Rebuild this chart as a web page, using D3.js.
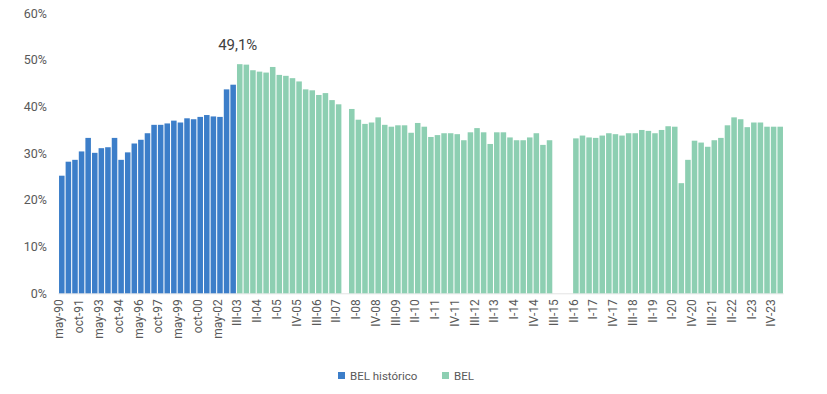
<!DOCTYPE html>
<html>
<head>
<meta charset="utf-8">
<script src="https://cdn.jsdelivr.net/npm/d3@7"></script>
<style>
  html, body { margin: 0; padding: 0; background: #ffffff; }
  svg { display: block; font-family: Roboto, "Open Sans", sans-serif; }
</style>
</head>
<body>
<svg id="chart" width="827" height="394"></svg>
<script>
// Historical semi-annual categories (BEL histórico)
const histCategories = [
  "may-90","oct-90","may-91","oct-91","may-92","oct-92","may-93","oct-93","may-94","oct-94",
  "may-95","oct-95","may-96","oct-96","may-97","oct-97","may-98","oct-98","may-99","oct-99",
  "may-00","oct-00","may-01","oct-01","may-02","oct-02","may-03"
];
const histValues = [
  25.2, 28.2, 28.6, 30.4, 33.3, 30.1, 31.1, 31.3, 33.3, 28.6,
  30.2, 32.1, 32.9, 34.3, 36.1, 36.1, 36.4, 37.0, 36.6, 37.5,
  37.3, 37.8, 38.2, 37.9, 37.8, 43.7, 44.7
];

// Quarterly categories (BEL)
const belCategories = [
  "III-03","IV-03",
  "I-04","II-04","III-04","IV-04",
  "I-05","II-05","III-05","IV-05",
  "I-06","II-06","III-06","IV-06",
  "I-07","II-07","III-07","IV-07",
  "I-08","II-08","III-08","IV-08",
  "I-09","II-09","III-09","IV-09",
  "I-10","II-10","III-10","IV-10",
  "I-11","II-11","III-11","IV-11",
  "I-12","II-12","III-12","IV-12",
  "I-13","II-13","III-13","IV-13",
  "I-14","II-14","III-14","IV-14",
  "I-15","II-15","III-15","IV-15",
  "I-16","II-16","III-16","IV-16",
  "I-17","II-17","III-17","IV-17",
  "I-18","II-18","III-18","IV-18",
  "I-19","II-19","III-19","IV-19",
  "I-20","II-20","III-20","IV-20",
  "I-21","II-21","III-21","IV-21",
  "I-22","II-22","III-22","IV-22",
  "I-23","II-23","III-23","IV-23",
  "I-24"
];
const belValues = [
  49.1, 49.0,
  47.8, 47.5, 47.3, 48.5,
  46.8, 46.6, 46.1, 45.4,
  43.7, 43.5, 42.5, 42.9,
  41.4, 40.5, null, 39.5,
  37.2, 36.3, 36.6, 37.7,
  36.1, 35.7, 36.0, 36.0,
  34.4, 36.5, 35.7, 33.5,
  33.9, 34.3, 34.3, 34.1,
  32.8, 34.5, 35.4, 34.5,
  32.0, 34.5, 34.5, 33.4,
  32.8, 32.8, 33.4, 34.3,
  31.8, 32.8, null, null,
  null, 33.2, 33.8, 33.4,
  33.3, 33.8, 34.3, 34.1,
  33.8, 34.3, 34.3, 35.0,
  34.8, 34.3, 35.0, 35.8,
  35.7, 23.6, 28.6, 32.7,
  32.3, 31.4, 32.8, 33.3,
  36.0, 37.7, 37.3, 35.6,
  36.6, 36.6, 35.7, 35.7,
  35.7
];

const yTicks = [0, 10, 20, 30, 40, 50, 60];
const seriesNames = ["BEL histórico", "BEL"];
const seriesColors = ["#3c7ec9", "#8dcfb2"];
const highlightCategory = "III-03";

// Build table
const rows = [];
histCategories.forEach((c, i) => rows.push({ cat: c, value: histValues[i], series: 0 }));
belCategories.forEach((c, i) => rows.push({ cat: c, value: belValues[i], series: 1 }));

const svg = d3.select("#chart");

const x = d3.scaleBand()
  .domain(rows.map(d => d.cat))
  .range([58.5, 783.5])
  .paddingInner(0.16)
  .paddingOuter(0.08);

const y = d3.scaleLinear()
  .domain([0, 60])
  .range([293.3, 13.3]);

// Baseline
svg.append("line")
  .attr("x1", x.range()[0]).attr("x2", x.range()[1])
  .attr("y1", y(0) + 0.5).attr("y2", y(0) + 0.5)
  .attr("stroke", "#e3e3e3").attr("stroke-width", 1);

// Bars
svg.append("g").selectAll("rect")
  .data(rows.filter(d => d.value !== null))
  .join("rect")
  .attr("x", d => x(d.cat))
  .attr("width", x.bandwidth())
  .attr("y", d => y(d.value))
  .attr("height", d => y(0) - y(d.value))
  .attr("fill", d => seriesColors[d.series]);

// Y axis
const yAxis = d3.axisLeft(y)
  .tickValues(yTicks)
  .tickFormat(d => d + "%")
  .tickSize(0)
  .tickPadding(0);
const yg = svg.append("g").attr("transform", "translate(47,0)").call(yAxis);
yg.select(".domain").remove();
yg.selectAll("text")
  .attr("fill", "#595959")
  .style("font-size", "12.5px")
  .style("font-family", "Roboto, sans-serif");

// X axis (every third label)
const xAxis = d3.axisBottom(x)
  .tickValues(x.domain().filter((d, i) => i % 3 === 0))
  .tickSize(0)
  .tickPadding(0);
const xg = svg.append("g").attr("transform", `translate(-2.5,${y(0) + 6})`).call(xAxis);
xg.select(".domain").remove();
xg.selectAll("text")
  .attr("transform", "rotate(-90)")
  .attr("text-anchor", "end")
  .attr("x", 0)
  .attr("y", 0)
  .attr("dy", "0.35em")
  .attr("fill", "#595959")
  .style("font-size", "12px")
  .style("font-family", "Roboto, sans-serif");

// Data label on III-03
const hl = rows.find(d => d.cat === highlightCategory);
svg.append("text")
  .attr("x", x(hl.cat) + x.bandwidth() / 2 - 2)
  .attr("y", y(hl.value) - 14)
  .attr("text-anchor", "middle")
  .attr("fill", "#404040")
  .style("font-size", "15px")
  .style("font-family", "Roboto, sans-serif")
  .text(d3.format(".1f")(hl.value).replace(".", ",") + "%");

// Legend
const legend = svg.append("g").attr("transform", "translate(338,372)");
const legendX = [0, 104];
seriesNames.forEach((name, i) => {
  const g = legend.append("g").attr("transform", `translate(${legendX[i]},0)`);
  g.append("rect").attr("width", 7).attr("height", 7).attr("y", 0).attr("fill", seriesColors[i]);
  g.append("text")
    .attr("x", 12).attr("y", 7.5)
    .attr("fill", "#595959")
    .style("font-size", "11.5px")
    .style("font-family", "Roboto, sans-serif")
    .text(name);
});
</script>
</body>
</html>
